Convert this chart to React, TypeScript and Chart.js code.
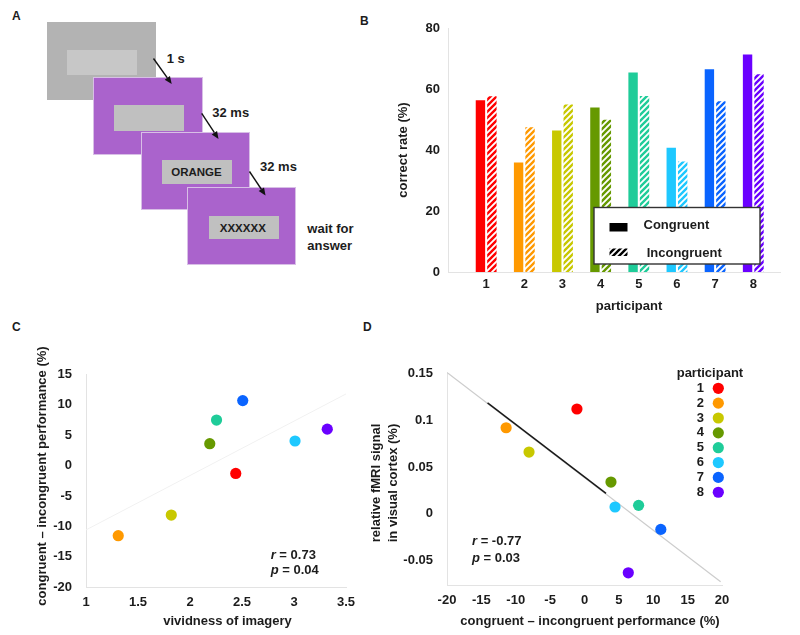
import React, { useEffect, useRef } from 'react';
import { Chart, registerables } from 'chart.js';

Chart.register(...registerables);

const FONT_FAMILY = '"Liberation Sans", Arial, Helvetica, sans-serif';
const TEXT = '#1c1c1c';
const AXIS = '#e3e3e3';

// ---------- data ----------
const participants = ['1', '2', '3', '4', '5', '6', '7', '8'];
const participantColors = ['#ff0000', '#ff9900', '#c8c800', '#669900', '#1fcc99', '#1ec8ff', '#0a64ff', '#6a00ff'];

// Panel B: correct rate (%)
const congruentRate = [56.3, 35.9, 46.4, 53.9, 65.4, 40.7, 66.5, 71.3];
const incongruentRate = [57.6, 47.5, 54.9, 49.9, 57.7, 36.2, 56.0, 64.8];
const seriesNamesB = ['Congruent', 'Incongruent'];

// Panel C: vividness vs performance difference
const vividness = [2.44, 1.31, 1.82, 2.19, 2.255, 3.01, 2.507, 3.32];
const perfDiffC = [-1.3, -11.55, -8.15, 3.6, 7.5, 4.05, 10.7, 6.0];
const fitCx = [1, 3.5];
const fitCy = [-10.6, 11.8];
const statsC = { r: '0.73', p: '0.04' };

// Panel D: performance difference vs fMRI signal
const perfDiffD = [-1.1, -11.4, -8.07, 3.85, 7.87, 4.44, 11.1, 6.37];
const fmriSignal = [0.112, 0.092, 0.066, 0.034, 0.0091, 0.0073, -0.0166, -0.063];
const fitDx = [-20, 19.8];
const fitDy = [0.151, -0.0725];
const fitDSegX = [-14.1, 3.13];
const fitDSegY = [0.1186, 0.0219];
const statsD = { r: '-0.77', p: '0.03' };

// ---------- helpers ----------
type Part = { t: string; italic?: boolean };
type Label = { parts: Part[] | string; x: number; y: number; align?: 'left' | 'center' | 'right'; rotate?: boolean; size?: number };

function fontStr(italic: boolean, size = 13) {
  return `${italic ? 'italic ' : ''}bold ${size}px ${FONT_FAMILY}`;
}

function drawLabel(ctx: CanvasRenderingContext2D, l: Label) {
  const parts = typeof l.parts === 'string' ? [{ t: l.parts }] : l.parts;
  ctx.save();
  ctx.fillStyle = TEXT;
  ctx.textBaseline = 'middle';
  ctx.textAlign = 'left';
  ctx.translate(l.x, l.y);
  if (l.rotate) ctx.rotate(-Math.PI / 2);
  let total = 0;
  const widths = parts.map((p) => {
    ctx.font = fontStr(!!p.italic, l.size);
    const w = ctx.measureText(p.t).width;
    total += w;
    return w;
  });
  let x = l.align === 'center' ? -total / 2 : l.align === 'right' ? -total : 0;
  parts.forEach((p, i) => {
    ctx.font = fontStr(!!p.italic, l.size);
    ctx.fillText(p.t, x, 0);
    x += widths[i];
  });
  ctx.restore();
}

function labelsPlugin(id: string, labels: Label[]) {
  return {
    id,
    afterDraw(chart: any) {
      labels.forEach((l) => drawLabel(chart.ctx, l));
    },
  };
}

function hatch(color: string): CanvasPattern {
  const s = 6;
  const c = document.createElement('canvas');
  c.width = s;
  c.height = s;
  const g = c.getContext('2d')!;
  g.fillStyle = '#ffffff';
  g.fillRect(0, 0, s, s);
  g.strokeStyle = color;
  g.lineWidth = 2.4;
  g.beginPath();
  g.moveTo(-1, s + 1);
  g.lineTo(s + 1, -1);
  g.moveTo(-s / 2 - 1, s / 2 + 1);
  g.lineTo(s / 2 + 1, -s / 2 - 1);
  g.moveTo(s / 2 - 1, s * 1.5 + 1);
  g.lineTo(s * 1.5 + 1, s / 2 - 1);
  g.stroke();
  return g.createPattern(c, 'repeat')!;
}

const tickFont = { family: FONT_FAMILY, size: 13, weight: 'bold' as const };
const plainNumber = (v: number) => String(Math.round(v * 1000) / 1000);

// ---------- chart B ----------
const legendBPlugin = {
  id: 'legendB',
  afterDraw(chart: any) {
    const ctx: CanvasRenderingContext2D = chart.ctx;
    const names = chart.data.datasets.map((d: any) => d.label);
    ctx.save();
    ctx.fillStyle = '#ffffff';
    ctx.fillRect(199, 207.5, 166, 56.5);
    ctx.strokeStyle = '#333333';
    ctx.lineWidth = 1.4;
    ctx.strokeRect(199, 207.5, 166, 56.5);
    ctx.fillStyle = '#000000';
    ctx.fillRect(214.5, 223, 18, 8.5);
    ctx.fillStyle = hatch('#000000');
    ctx.fillRect(214.5, 248.5, 18, 7.5);
    ctx.restore();
    drawLabel(ctx, { parts: names[0], x: 248.5, y: 225.5 });
    drawLabel(ctx, { parts: names[1], x: 251.7, y: 253.5 });
  },
};

function buildB(): any {
  return {
    type: 'bar',
    data: {
      datasets: [
        {
          label: seriesNamesB[0],
          data: congruentRate.map((y, i) => ({ x: i + 1, y })),
          backgroundColor: participantColors,
          borderWidth: 0,
          categoryPercentage: 0.6,
          barPercentage: 0.82,
        },
        {
          label: seriesNamesB[1],
          data: incongruentRate.map((y, i) => ({ x: i + 1, y })),
          backgroundColor: participantColors.map((c) => hatch(c)),
          borderWidth: 0,
          categoryPercentage: 0.6,
          barPercentage: 0.82,
        },
      ],
    },
    options: {
      responsive: false,
      animation: false,
      devicePixelRatio: 1,
      layout: { padding: { top: 28, right: 20, left: 0, bottom: 0 } },
      plugins: { legend: { display: false }, tooltip: { enabled: false } },
      scales: {
        x: {
          type: 'linear',
          min: 0,
          max: 8.7,
          offset: false,
          grid: { display: false, drawTicks: false },
          border: { color: AXIS, width: 1 },
          ticks: {
            stepSize: 1,
            includeBounds: false,
            padding: 5,
            color: TEXT,
            font: tickFont,
            maxRotation: 0,
            autoSkip: false,
            callback: (v: number) => (Number.isInteger(v) && v >= 1 && v <= participants.length ? participants[v - 1] : ''),
          },
          afterFit: (s: any) => {
            s.height = 58;
          },
        },
        y: {
          min: 0,
          max: 80,
          grid: { display: false, drawTicks: false },
          border: { color: AXIS, width: 1 },
          ticks: { stepSize: 20, padding: 8, color: TEXT, font: tickFont },
          afterFit: (s: any) => {
            s.width = 53;
          },
        },
      },
    },
    plugins: [
      legendBPlugin,
      labelsPlugin('titlesB', [
        { parts: 'correct rate (%)', x: 8.3, y: 150, align: 'center', rotate: true },
        { parts: 'participant', x: 234, y: 306.7, align: 'center' },
      ]),
    ],
  };
}

// ---------- chart C ----------
function buildC(): any {
  return {
    type: 'scatter',
    data: {
      datasets: [
        {
          label: 'participants',
          data: vividness.map((x, i) => ({ x, y: perfDiffC[i] })),
          pointBackgroundColor: participantColors,
          pointBorderColor: participantColors,
          pointBorderWidth: 0,
          pointRadius: 5.6,
          showLine: false,
        },
        {
          label: 'fit',
          data: fitCx.map((x, i) => ({ x, y: fitCy[i] })),
          showLine: true,
          borderColor: '#f1f1f1',
          borderWidth: 1,
          pointRadius: 0,
          fill: false,
        },
      ],
    },
    options: {
      responsive: false,
      animation: false,
      devicePixelRatio: 1,
      layout: { padding: { top: 44.5, right: 34, left: 0, bottom: 0 } },
      plugins: { legend: { display: false }, tooltip: { enabled: false } },
      scales: {
        x: {
          type: 'linear',
          min: 1,
          max: 3.5,
          grid: { display: false, drawTicks: false },
          border: { color: AXIS, width: 1 },
          ticks: { stepSize: 0.5, padding: 8, color: TEXT, font: tickFont, maxRotation: 0, autoSkip: false, callback: plainNumber },
          afterFit: (s: any) => {
            s.height = 48;
          },
        },
        y: {
          type: 'linear',
          min: -20,
          max: 15,
          grid: { display: false, drawTicks: false },
          border: { color: AXIS, width: 1 },
          ticks: { stepSize: 5, padding: 14, color: TEXT, font: tickFont, callback: plainNumber },
          afterFit: (s: any) => {
            s.width = 86;
          },
        },
      },
    },
    plugins: [
      labelsPlugin('titlesC', [
        { parts: 'congruent \u2013 incongruent performance (%)', x: 42, y: 146, align: 'center', rotate: true },
        { parts: 'vividness of imagery', x: 227.5, y: 291.7, align: 'center' },
        { parts: [{ t: 'r', italic: true }, { t: ' = ' + statsC.r }], x: 270.7, y: 225 },
        { parts: [{ t: 'p', italic: true }, { t: ' = ' + statsC.p }], x: 270.7, y: 240 },
      ]),
    ],
  };
}

// ---------- chart D ----------
const legendDPlugin = {
  id: 'legendD',
  afterDraw(chart: any) {
    const ctx: CanvasRenderingContext2D = chart.ctx;
    drawLabel(ctx, { parts: 'participant', x: 316.7, y: 43.3 });
    participants.forEach((p, i) => {
      const y = 58.3 + i * 14.85;
      drawLabel(ctx, { parts: p, x: 344, y, align: 'right' });
      ctx.save();
      ctx.fillStyle = participantColors[i];
      ctx.beginPath();
      ctx.arc(358.3, y, 5.6, 0, Math.PI * 2);
      ctx.fill();
      ctx.restore();
    });
  },
};

function buildD(): any {
  return {
    type: 'scatter',
    data: {
      datasets: [
        {
          label: 'participants',
          data: perfDiffD.map((x, i) => ({ x, y: fmriSignal[i] })),
          pointBackgroundColor: participantColors,
          pointBorderColor: participantColors,
          pointBorderWidth: 0,
          pointRadius: 5.6,
          showLine: false,
        },
        {
          label: 'fit segment',
          data: fitDSegX.map((x, i) => ({ x, y: fitDSegY[i] })),
          showLine: true,
          borderColor: '#1a1a1a',
          borderWidth: 1.5,
          pointRadius: 0,
          fill: false,
        },
        {
          label: 'fit',
          data: fitDx.map((x, i) => ({ x, y: fitDy[i] })),
          showLine: true,
          borderColor: '#cdcdcd',
          borderWidth: 1.2,
          pointRadius: 0,
          fill: false,
        },
      ],
    },
    options: {
      responsive: false,
      animation: false,
      devicePixelRatio: 1,
      layout: { padding: { top: 42.5, right: 78, left: 0, bottom: 0 } },
      plugins: { legend: { display: false }, tooltip: { enabled: false } },
      scales: {
        x: {
          type: 'linear',
          min: -20,
          max: 20,
          grid: { display: false, drawTicks: false },
          border: { color: AXIS, width: 1 },
          ticks: { stepSize: 5, padding: 8, color: TEXT, font: tickFont, maxRotation: 0, autoSkip: false, callback: plainNumber },
          afterFit: (s: any) => {
            s.height = 50;
          },
        },
        y: {
          type: 'linear',
          min: -0.076,
          max: 0.151,
          grid: { display: false, drawTicks: false },
          border: { color: AXIS, width: 1 },
          ticks: {
            stepSize: 0.05,
            includeBounds: false,
            padding: 14,
            color: TEXT,
            font: tickFont,
            callback: plainNumber,
          },
          afterFit: (s: any) => {
            s.width = 87;
          },
        },
      },
    },
    plugins: [
      legendDPlugin,
      labelsPlugin('titlesD', [
        { parts: 'relative fMRI signal', x: 16.7, y: 153, align: 'center', rotate: true },
        { parts: 'in visual cortex (%)', x: 33.3, y: 153, align: 'center', rotate: true },
        { parts: 'congruent \u2013 incongruent performance (%)', x: 230, y: 291.7, align: 'center' },
        { parts: [{ t: 'r', italic: true }, { t: ' = ' + statsD.r }], x: 112, y: 211.5 },
        { parts: [{ t: 'p', italic: true }, { t: ' = ' + statsD.p }], x: 112, y: 228 },
      ]),
    ],
  };
}

// ---------- components ----------
function ChartCanvas({ left, top, width, height, build }: { left: number; top: number; width: number; height: number; build: () => any }) {
  const ref = useRef<HTMLCanvasElement>(null);
  useEffect(() => {
    const chart = new Chart(ref.current!, build());
    return () => chart.destroy();
  }, []);
  return (
    <canvas
      ref={ref}
      width={width}
      height={height}
      style={{ position: 'absolute', left, top, width, height, display: 'block' }}
    />
  );
}

const boxStyle = (l: number, t: number, w: number, h: number, bg: string, extra: React.CSSProperties = {}): React.CSSProperties => ({
  position: 'absolute',
  left: l,
  top: t,
  width: w,
  height: h,
  background: bg,
  boxSizing: 'border-box',
  ...extra,
});

const textStyle = (l: number, cy: number, size = 13, extra: React.CSSProperties = {}): React.CSSProperties => ({
  position: 'absolute',
  left: l,
  top: cy - 8,
  height: 16,
  lineHeight: '16px',
  fontSize: size,
  fontWeight: 'bold',
  color: TEXT,
  whiteSpace: 'nowrap',
  ...extra,
});

function Arrow({ x1, y1, x2, y2 }: { x1: number; y1: number; x2: number; y2: number }) {
  const ang = Math.atan2(y2 - y1, x2 - x1);
  const len = 7.5;
  const half = 3.2;
  const bx = x2 - len * Math.cos(ang);
  const by = y2 - len * Math.sin(ang);
  const px = -Math.sin(ang) * half;
  const py = Math.cos(ang) * half;
  return (
    <g>
      <line x1={x1} y1={y1} x2={bx} y2={by} stroke="#111" strokeWidth={1.4} />
      <polygon points={`${x2},${y2} ${bx + px},${by + py} ${bx - px},${by - py}`} fill="#111" />
    </g>
  );
}

function PanelA() {
  const purple = '#aa63cc';
  const edge = { border: '1px solid #d8bfe6' };
  return (
    <>
      <div style={boxStyle(46.5, 22, 109, 77.5, '#b3b3b3')} />
      <div style={boxStyle(67.3, 50, 70, 25.3, '#c7c7c7')} />
      <div style={boxStyle(93.3, 77, 109.5, 78, purple, edge)} />
      <div style={boxStyle(114.3, 105.3, 70, 25.3, '#c0c0c0')} />
      <div style={boxStyle(141, 132.3, 108.5, 77.5, purple, edge)} />
      <div style={boxStyle(161.7, 160.3, 70, 23.3, '#c0c0c0')} />
      <div style={boxStyle(187, 187, 109, 78, purple, edge)} />
      <div style={boxStyle(208.7, 216, 70, 22.7, '#c0c0c0')} />
      <div style={textStyle(171.2, 172, 11.5, { width: 50, textAlign: 'center' })}>ORANGE</div>
      <div style={textStyle(217.8, 227.7, 11.5, { width: 50, textAlign: 'center' })}>XXXXXX</div>
      <svg width={400} height={300} style={{ position: 'absolute', left: 0, top: 0 }}>
        <Arrow x1={153.5} y1={58.5} x2={171.7} y2={84} />
        <Arrow x1={201.7} y1={113.3} x2={218.5} y2={139} />
        <Arrow x1={249.5} y1={171.5} x2={265.5} y2={195.5} />
      </svg>
      <div style={textStyle(166.7, 58.7)}>1 s</div>
      <div style={textStyle(212.3, 113.3)}>32 ms</div>
      <div style={textStyle(260, 166.7)}>32 ms</div>
      <div style={textStyle(307.3, 229.3)}>wait for</div>
      <div style={textStyle(307.3, 245.7)}>answer</div>
    </>
  );
}

export default function App() {
  useEffect(() => {
    document.body.style.margin = '0';
  }, []);
  return (
    <div
      style={{
        position: 'absolute',
        left: 0,
        top: 0,
        width: 800,
        height: 635,
        background: '#ffffff',
        overflow: 'hidden',
        fontFamily: FONT_FAMILY,
      }}
    >
      <PanelA />
      <div style={textStyle(12, 15.5, 12)}>A</div>
      <div style={textStyle(360, 20.5, 12)}>B</div>
      <div style={textStyle(12, 326.5, 12)}>C</div>
      <div style={textStyle(363, 326.5, 12)}>D</div>
      <ChartCanvas left={395} top={0} width={405} height={330} build={buildB} />
      <ChartCanvas left={0} top={330} width={380} height={305} build={buildC} />
      <ChartCanvas left={360} top={330} width={440} height={305} build={buildD} />
    </div>
  );
}
